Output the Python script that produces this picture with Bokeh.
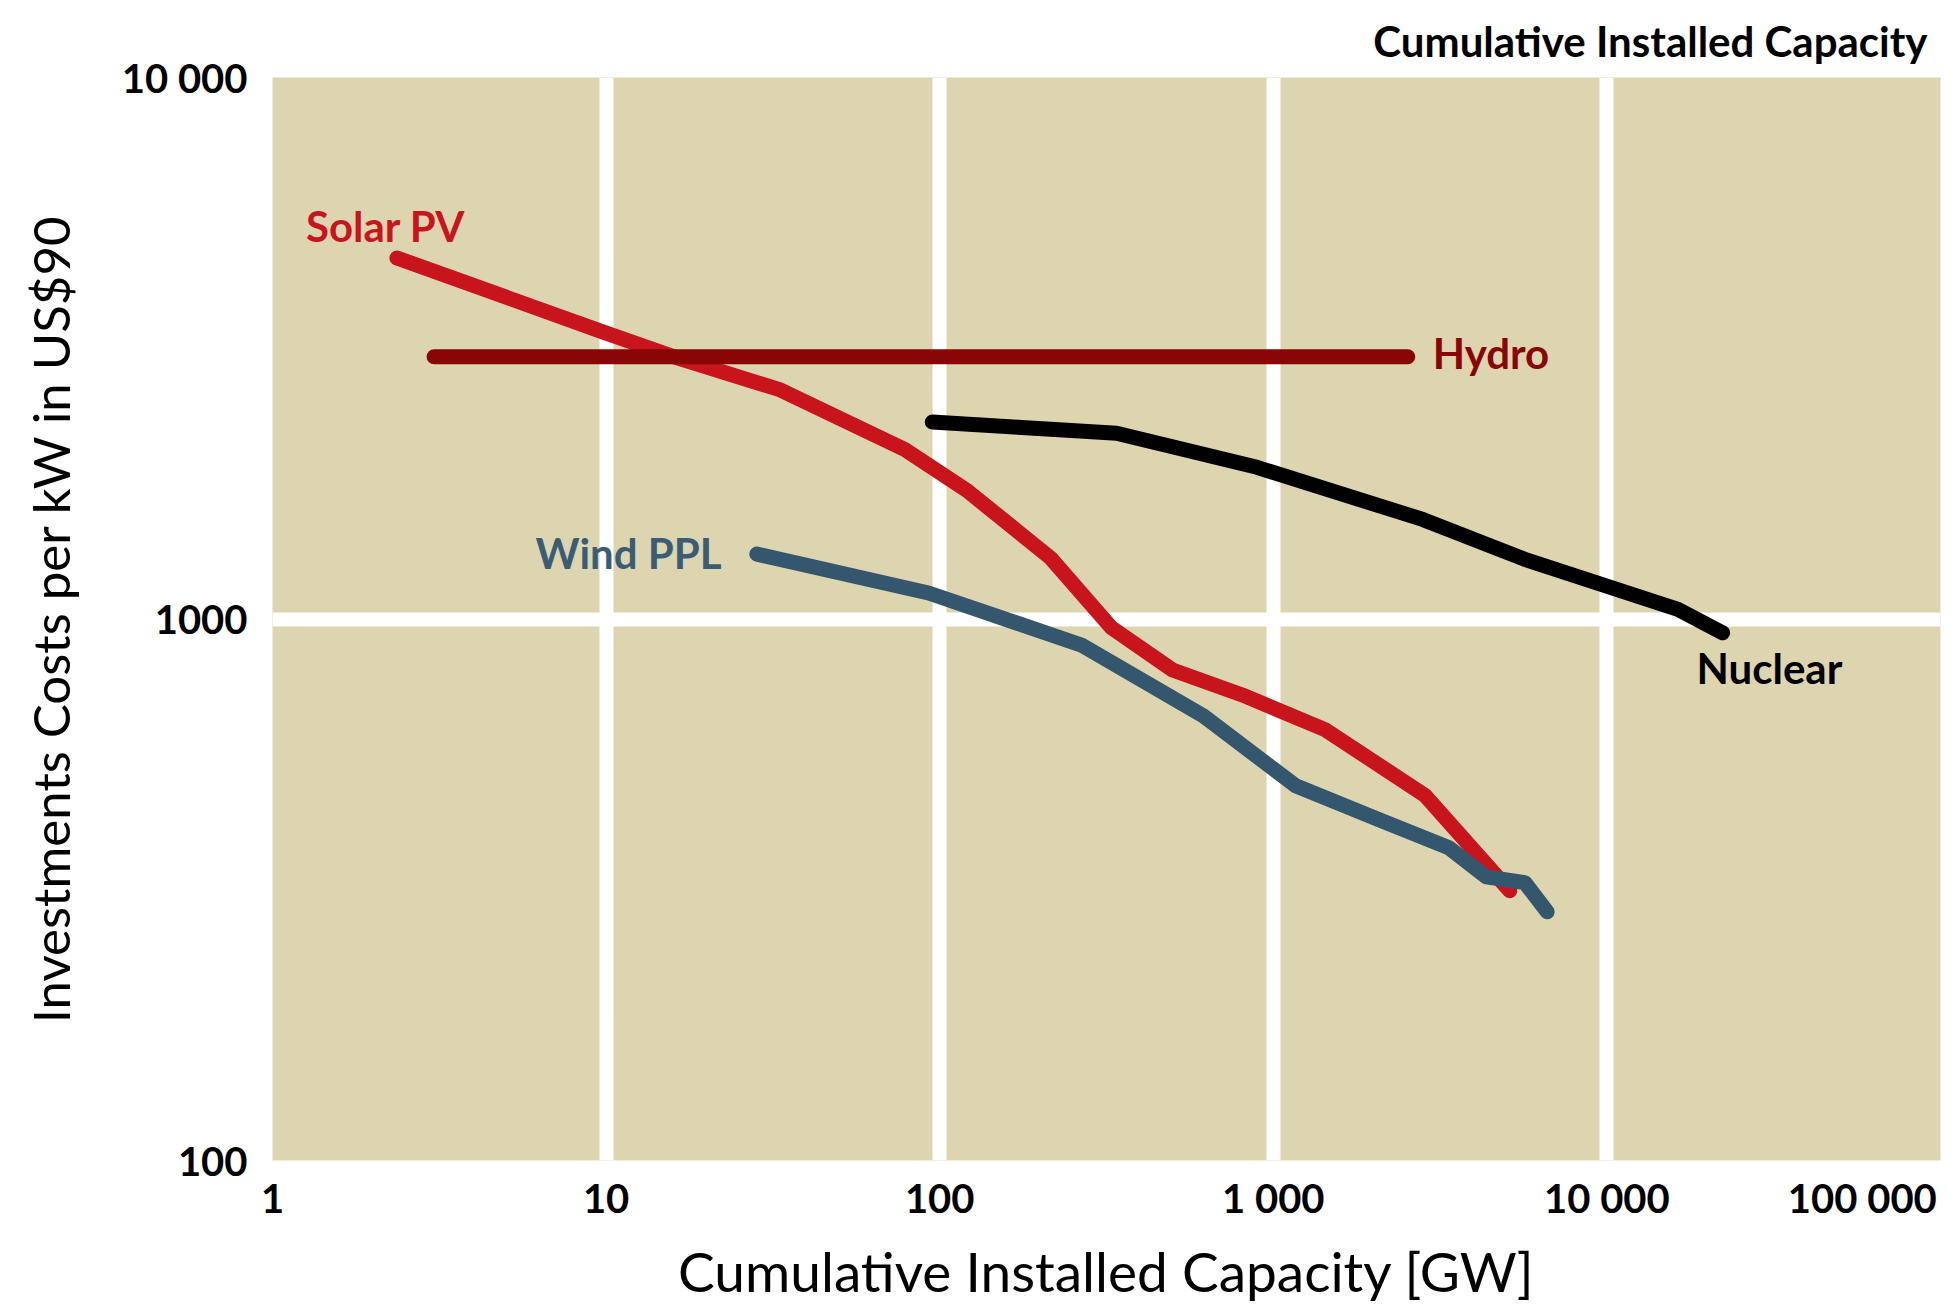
from bokeh.plotting import figure
from bokeh.models import FixedTicker, Label, Title
from bokeh.embed import file_html
from bokeh.resources import INLINE

# ---- data ----
solar_x = [2.36, 9.67, 15.9, 33.3, 78.6, 121, 215, 327, 499, 807, 1435, 2851, 5117]
solar_y = [4642, 3398, 3053, 2649, 2056, 1725, 1296, 964, 805, 724, 624, 472, 315]

hydro_x = [3.05, 2530]
hydro_y = [3050, 3050]

wind_x = [28.3, 92.6, 266, 618, 1167, 2094, 3360, 4348, 5675, 6622]
wind_y = [1318, 1117, 895, 662, 492, 425, 378, 334, 326, 288]

nuclear_x = [95, 176, 339, 894, 2805, 5674, 16330, 22230]
nuclear_y = [2311, 2258, 2203, 1906, 1527, 1289, 1042, 943]

x_ticks = [1, 10, 100, 1000, 10000, 100000]
x_tick_labels = ["1", "10", "100", "1 000", "10 000", "100 000"]
y_ticks = [100, 1000, 10000]
y_tick_labels = ["100", "1000", "10 000"]

TAN = "#DDD5B0"
SOLAR = "#C8151D"
HYDRO = "#8A0505"
WIND = "#34576E"
NUCLEAR = "#000000"
FONT = "Lato"

p = figure(width=1946, height=1306, x_axis_type="log", y_axis_type="log",
           x_range=(1, 100000), y_range=(100, 10000),
           output_backend="svg", toolbar_location=None,
           min_border_left=272, min_border_right=6,
           min_border_top=77, min_border_bottom=145)

p.background_fill_color = TAN
p.border_fill_color = "white"
p.outline_line_color = None

# grid: white separators between decades
p.xgrid.ticker = FixedTicker(ticks=x_ticks[1:-1])
p.ygrid.ticker = FixedTicker(ticks=y_ticks[1:-1])
for g in (p.xgrid, p.ygrid):
    g.grid_line_color = "white"
    g.grid_line_width = 14
    g.grid_line_alpha = 1.0
    g.minor_grid_line_color = None

# axes
p.xaxis.ticker = FixedTicker(ticks=x_ticks)
p.yaxis.ticker = FixedTicker(ticks=y_ticks)
xo = {t: l for t, l in zip(x_ticks, x_tick_labels)}
# last x label sits flush with the right edge: pad with a no-break space
xo[x_ticks[-1]] = x_tick_labels[-1] + "\u00a0"
yo = {t: l for t, l in zip(y_ticks, y_tick_labels)}
p.xaxis.major_label_overrides = xo
p.yaxis.major_label_overrides = yo

for ax in (p.xaxis, p.yaxis):
    ax.axis_line_color = None
    ax.major_tick_line_color = None
    ax.minor_tick_line_color = None
    ax.major_label_text_font = FONT
    ax.major_label_text_font_style = "bold"
    ax.major_label_text_font_size = "40px"
    ax.major_label_text_color = "black"
    ax.axis_label_text_font = FONT
    ax.axis_label_text_font_style = "normal"
    ax.axis_label_text_color = "black"

p.xaxis.axis_label_text_font_size = "55px"
p.yaxis.axis_label_text_font_size = "51px"
p.xaxis.axis_label = "Cumulative Installed Capacity [GW]"
p.yaxis.axis_label = "Investments Costs per kW in US$90"
p.xaxis.major_label_standoff = 7
p.yaxis.major_label_standoff = 19
p.xaxis.axis_label_standoff = 13
p.yaxis.axis_label_standoff = 38

# top-right title
p.add_layout(Title(text="Cumulative Installed Capacity", align="right",
                   text_font=FONT, text_font_style="bold", text_font_size="42px",
                   text_color="black", standoff=24, offset=13), "above")

# lines
lw = 15
p.line(solar_x, solar_y, line_color=SOLAR, line_width=lw, line_cap="round", line_join="round")
p.line(hydro_x, hydro_y, line_color=HYDRO, line_width=lw, line_cap="round", line_join="round")
p.line(wind_x, wind_y, line_color=WIND, line_width=lw, line_cap="round", line_join="round")
p.line(nuclear_x, nuclear_y, line_color=NUCLEAR, line_width=lw, line_cap="round", line_join="round")

# series labels
def lab(x, y, text, color, align="left"):
    p.add_layout(Label(x=x, y=y, text=text, text_color=color, text_font=FONT,
                       text_font_style="bold", text_font_size="42px",
                       text_align=align, text_baseline="middle"))

lab(1.26, 5321, "Solar PV", SOLAR)
lab(3005, 3104, "Hydro", HYDRO)
lab(22.2, 1324, "Wind PPL", "#3A5D75", align="right")
lab(18570, 812, "Nuclear", NUCLEAR)

open("out.html", "w").write(file_html(p, INLINE))
